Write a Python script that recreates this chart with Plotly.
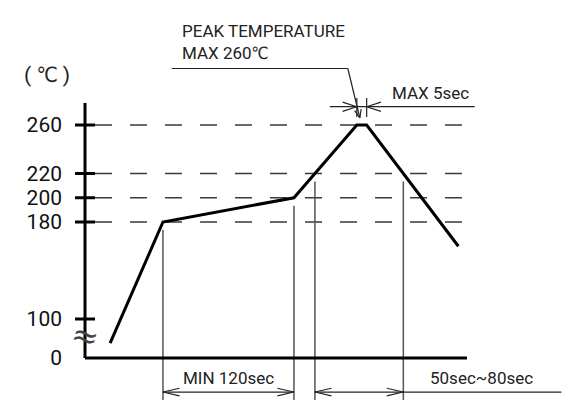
import math
import plotly.graph_objects as go

# ---------------- data ----------------
tick_temps = [0, 100, 180, 200, 220, 260]            # °C
tick_labels = ["0", "100", "180", "200", "220", "260"]
ref_temps = [180, 200, 220, 260]                     # dashed guide levels, °C
profile_time = [23, 71.4, 191.4, 249, 258, 342]      # schematic time units
profile_temp = [38, 180, 200, 260, 260, 160]         # °C
liquidus_temp = 220
unit_label = "( ℃ )"
peak_label = "PEAK TEMPERATURE<br>MAX 260℃"
peak_hold_label = "MAX 5sec"
preheat_label = "MIN 120sec"
above_label = "50sec~80sec"

# ---------------- scales / style ----------------
W, H = 564, 408             # page body keeps an 8px margin
X0, XS = 77.0, 1.0917       # pixel of t=0 inside the figure, pixels per time unit
Y260, YS = 117.0, 1.2125    # pixel of 260 °C inside the figure, pixels per °C
K_BREAK = 0.322             # compression below the axis break
FONT = "Roboto, DejaVu Sans Condensed, sans-serif"


def disp(T):
    return T if T >= 100 else 100 - (100 - T) * K_BREAK


def dx(p):
    return p / XS


def dy(p):
    return p / YS


def to_px(t, d):
    return X0 + t * XS, Y260 - (d - 260) * YS


def from_px(x, y):
    return (x - X0) / XS, 260 - (y - Y260) / YS


D0 = disp(0)
prof_d = [disp(T) for T in profile_temp]
t_axis_end = dx(382)
d_axis_top = 260 + dy(22)

# crossings of the liquidus level
t_cross = []
for i in range(len(profile_time) - 1):
    a, b = profile_temp[i], profile_temp[i + 1]
    if (a - liquidus_temp) * (b - liquidus_temp) < 0:
        f = (liquidus_temp - a) / (b - a)
        t_cross.append(profile_time[i] + f * (profile_time[i + 1] - profile_time[i]))


def add_seg(store, p, q):
    store[0] += [p[0], q[0], None]
    store[1] += [p[1], q[1], None]


def add_barbs(store, tip, back_dir_px, L, half_deg):
    """open V arrowhead; back_dir_px: direction (pixel space) from tip toward tail"""
    tx, ty = to_px(*tip)
    bx, by = back_dir_px
    n = math.hypot(bx, by)
    bx, by = bx / n, by / n
    for s in (1, -1):
        a = math.radians(half_deg) * s
        rx = bx * math.cos(a) - by * math.sin(a)
        ry = bx * math.sin(a) + by * math.cos(a)
        add_seg(store, tip, from_px(tx + L * rx, ty + L * ry))


fig = go.Figure()

# dashed guides
dash = [[], []]
for T in ref_temps:
    add_seg(dash, (dx(10), T), (dx(377), T))
fig.add_trace(go.Scatter(x=dash[0], y=dash[1], mode="lines",
                         line=dict(color="#3a3a3a", width=1.4, dash="17px,18px"),
                         hoverinfo="skip"))

# vertical extension lines
vert = [[], []]
y_bot = D0 - dy(42)
for t, d in [(profile_time[1], prof_d[1]), (profile_time[2], prof_d[2])] + \
        [(tc, disp(liquidus_temp)) for tc in t_cross]:
    add_seg(vert, (t, d - dy(8)), (t, y_bot))
fig.add_trace(go.Scatter(x=vert[0], y=vert[1], mode="lines",
                         line=dict(color="#555", width=1.5), hoverinfo="skip"))

# dimension lines and arrows
dim = [[], []]
y_dim = D0 - dy(34)
# MIN 120sec
t1, t2 = profile_time[1], profile_time[2]
add_seg(dim, (t1, y_dim), (t2, y_dim))
add_barbs(dim, (t1, y_dim), (1, 0), 17, 13)
add_barbs(dim, (t2, y_dim), (-1, 0), 17, 13)
# 50sec~80sec
c1, c2 = t_cross[0], t_cross[1]
add_seg(dim, (c1, y_dim), (c2 + dx(158), y_dim))
add_barbs(dim, (c1, y_dim), (1, 0), 17, 13)
add_barbs(dim, (c2, y_dim), (-1, 0), 17, 13)
# MAX 5sec
ps, pe = profile_time[3], profile_time[4]
y_hold = 260 + dy(18.3)
add_seg(dim, (ps - dx(27), y_hold), (pe + dx(108), y_hold))
add_barbs(dim, (ps, y_hold), (-1, 0), 15, 18)
add_barbs(dim, (pe, y_hold), (1, 0), 15, 18)
for t in (ps, pe):
    add_seg(dim, (t, 260 + dy(8)), (t, 260 + dy(27)))
# peak leader
y_ul = 260 + dy(56.5)
lead_start = (ps - dx(9), y_ul)
lead_tip = (ps + dx(3), 260 + dy(7))
add_seg(dim, (ps - dx(185), y_ul), lead_start)
add_seg(dim, lead_start, lead_tip)
sx, sy = to_px(*lead_start)
ex, ey = to_px(*lead_tip)
add_barbs(dim, lead_tip, (sx - ex, sy - ey), 9, 22)
fig.add_trace(go.Scatter(x=dim[0], y=dim[1], mode="lines",
                         line=dict(color="#222", width=1.2), hoverinfo="skip"))

# axes
ax = [[], []]
add_seg(ax, (0, D0), (0, d_axis_top))
add_seg(ax, (0, D0), (t_axis_end, D0))
for T in tick_temps[1:]:
    add_seg(ax, (-dx(10), disp(T)), (dx(10), disp(T)))
fig.add_trace(go.Scatter(x=ax[0], y=ax[1], mode="lines",
                         line=dict(color="#000", width=3), hoverinfo="skip"))

# profile curve
fig.add_trace(go.Scatter(x=profile_time, y=prof_d, mode="lines",
                         line=dict(color="#000", width=3), hoverinfo="skip"))

ann_font = dict(family=FONT, size=17, color="#222")
anns = [
    dict(x=-dx(38), y=260 + dy(50), text=unit_label, xanchor="center", yanchor="middle",
         font=dict(family=FONT, size=21, color="#222")),
    dict(x=0, y=D0 + dy(22), text="≈", xanchor="center", yanchor="middle", textangle=15,
         font=dict(family="DejaVu Sans", size=32, color="#444")),
    dict(x=ps - dx(177), y=260 + dy(83.3), text=peak_label, xanchor="left", yanchor="middle",
         align="left", font=ann_font),
    dict(x=pe + dx(23), y=260 + dy(32.5), text=peak_hold_label, xanchor="left",
         yanchor="middle", font=ann_font),
    dict(x=(t1 + t2) / 2, y=D0 - dy(20), text=preheat_label, xanchor="center",
         yanchor="middle", font=ann_font),
    dict(x=c2 + dx(25), y=D0 - dy(19.5), text=above_label, xanchor="left",
         yanchor="middle", font=ann_font),
]
for a in anns:
    a.update(xref="x", yref="y", showarrow=False)

fig.update_layout(
    width=W, height=H,
    margin=dict(l=0, r=0, t=0, b=0),
    paper_bgcolor="white", plot_bgcolor="white",
    showlegend=False,
    annotations=anns,
    xaxis=dict(range=[from_px(0, 0)[0], from_px(W, 0)[0]], visible=False, fixedrange=True),
    yaxis=dict(range=[from_px(0, H)[1], from_px(0, 0)[1]],
               tickvals=[disp(T) for T in tick_temps], ticktext=tick_labels,
               showgrid=False, zeroline=False, showline=False, ticks="",
               anchor="free", position=X0 / W, ticklabelstandoff=23,
               tickfont=dict(family=FONT, size=21, color="#111"), fixedrange=True),
)

fig.write_html("out.html")
